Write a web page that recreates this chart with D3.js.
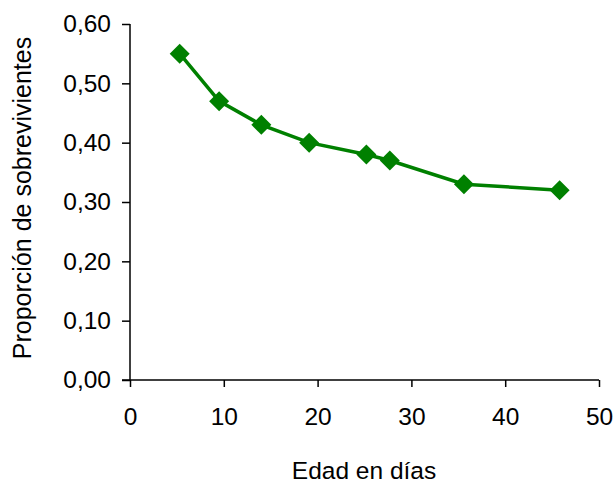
<!DOCTYPE html>
<html>
<head>
<meta charset="utf-8">
<script src="https://cdn.jsdelivr.net/npm/d3@7"></script>
<style>
  body { margin: 0; background: #fff; }
  svg text { font-family: "Liberation Sans", Arial, sans-serif; fill: #000; }
</style>
</head>
<body>
<div id="chart"></div>
<script>
const edadDias = [5.3, 9.5, 14.0, 19.1, 25.2, 27.7, 35.6, 45.8];
const proporcion = [0.55, 0.47, 0.43, 0.40, 0.38, 0.37, 0.33, 0.32];
const xTicks = [0, 10, 20, 30, 40, 50];
const yTicks = [0, 0.1, 0.2, 0.3, 0.4, 0.5, 0.6];

const width = 616;
const height = 483;
const plotLeft = 130, plotRight = 599, plotTop = 24, plotBottom = 380;
const fontSize = '24.5px';

const svg = d3.select('#chart')
    .append('svg')
        .attr('width', width)
        .attr('height', height);

const x = d3.scaleLinear().domain([0, 50]).range([plotLeft, plotRight]);
const y = d3.scaleLinear().domain([0, 0.6]).range([plotBottom, plotTop]);

const fmt = d => d3.format('.2f')(d).replace('.', ',');

const xAxis = svg.append('g')
    .attr('transform', `translate(0,${plotBottom})`)
    .call(d3.axisBottom(x).tickValues(xTicks).tickSize(7).tickPadding(21));

const yAxis = svg.append('g')
    .attr('transform', `translate(${plotLeft},0)`)
    .call(d3.axisLeft(y).tickValues(yTicks).tickFormat(fmt).tickSize(8).tickPadding(11));

// x axis line also extends a bit left of the y axis
svg.append('line')
    .attr('x1', plotLeft - 8).attr('x2', plotLeft)
    .attr('y1', plotBottom).attr('y2', plotBottom)
    .attr('stroke', '#000').attr('stroke-width', 1.5);

[xAxis, yAxis].forEach(g => {
    g.select('.domain').attr('stroke', '#000').attr('stroke-width', 1.5);
    g.selectAll('.tick line').attr('stroke', '#000').attr('stroke-width', 1.5);
    g.selectAll('.tick text').style('font-size', fontSize);
});
xAxis.selectAll('.domain').attr('d', `M${plotLeft},0H${plotRight}`);
yAxis.selectAll('.domain').attr('d', `M0,${plotBottom}V${plotTop}`);

const pts = edadDias.map((d, i) => ({x: d, y: proporcion[i]}));

svg.append('path')
    .datum(pts)
    .attr('d', d3.line().x(d => x(d.x)).y(d => y(d.y)))
    .attr('fill', 'none')
    .attr('stroke', '#008000')
    .attr('stroke-width', 3.5);

svg.selectAll('.marker')
    .data(pts)
    .join('path')
        .attr('class', 'marker')
        .attr('transform', d => `translate(${x(d.x)},${y(d.y)})`)
        .attr('d', 'M0,-10L10,0L0,10L-10,0Z')
        .attr('fill', '#008000');

svg.append('text')
    .attr('x', 364)
    .attr('y', 479)
    .attr('text-anchor', 'middle')
    .style('font-size', fontSize)
    .text('Edad en días');

svg.append('text')
    .attr('transform', `translate(31,198) rotate(-90)`)
    .attr('text-anchor', 'middle')
    .style('font-size', '25px')
    .text('Proporción de sobrevivientes');
</script>
</body>
</html>
